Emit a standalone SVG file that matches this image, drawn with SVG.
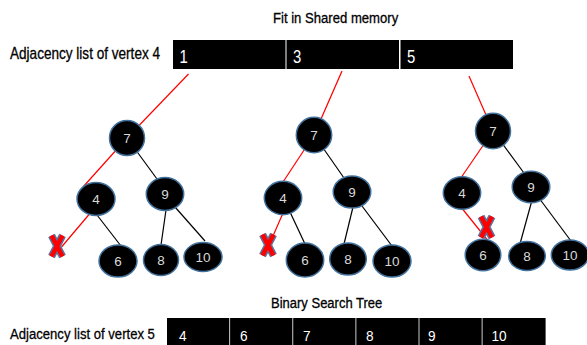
<svg xmlns="http://www.w3.org/2000/svg" xmlns:xlink="http://www.w3.org/1999/xlink" width="587" height="345" viewBox="0 0 587 345">
<style>
.lbl{font-family:"Liberation Sans",Arial,sans-serif;fill:#000;stroke:#000;stroke-width:0.3;}
.cell{fill:#000;}
.ct{font-family:"Liberation Sans",Arial,sans-serif;fill:#fff;}
.node ellipse{fill:#000;stroke:#41719c;stroke-width:1.5;}
.node text{font-family:"Liberation Sans",Arial,sans-serif;font-size:13.5px;fill:#d9d9d9;text-anchor:middle;}
.red{stroke:#ff0000;stroke-width:1.2;fill:none;}
.blk{stroke:#000;stroke-width:1.2;fill:none;}
</style>
<defs>
<g id="xmark">
<path d="M-5.5,-10.5 L5.5,10.5 M5.5,-10.5 L-5.5,10.5" stroke="#5a74a0" stroke-width="7.5" stroke-linecap="butt"/>
<path d="M-5.5,-10.5 L5.5,10.5 M5.5,-10.5 L-5.5,10.5" stroke="#ff0000" stroke-width="4.5" stroke-linecap="butt"/>
</g>
</defs>

<text class="lbl" transform="translate(273,23) scale(0.874,1)" font-size="15">Fit in Shared memory</text>
<text class="lbl" transform="translate(10,59) scale(0.848,1)" font-size="16">Adjacency list of vertex 4</text>
<text class="lbl" transform="translate(271,308) scale(0.897,1)" font-size="14.5">Binary Search Tree</text>
<text class="lbl" transform="translate(10,339) scale(0.846,1)" font-size="15.5">Adjacency list of vertex 5</text>

<g id="list4">
<rect class="cell" x="173" y="40" width="112.5" height="29"/>
<rect class="cell" x="286.5" y="40" width="112.5" height="29"/>
<rect class="cell" x="400.5" y="40" width="112.5" height="29"/>
<text class="ct" transform="translate(179.5,62.7) scale(0.85,1)" font-size="17.5">1</text>
<text class="ct" transform="translate(293,62.7) scale(0.85,1)" font-size="17.5">3</text>
<text class="ct" transform="translate(407,62.7) scale(0.85,1)" font-size="17.5">5</text>
</g>

<g id="list5">
<rect class="cell" x="167" y="318" width="62.3" height="27"/>
<rect class="cell" x="230.1" y="318" width="62.3" height="27"/>
<rect class="cell" x="293.2" y="318" width="62.3" height="27"/>
<rect class="cell" x="356.3" y="318" width="62.3" height="27"/>
<rect class="cell" x="419.4" y="318" width="62.3" height="27"/>
<rect class="cell" x="482.5" y="318" width="63.1" height="27"/>
<text class="ct" transform="translate(179,341) scale(0.88,1)" font-size="15.5">4</text>
<text class="ct" transform="translate(240,341) scale(0.88,1)" font-size="15.5">6</text>
<text class="ct" transform="translate(303,341) scale(0.88,1)" font-size="15.5">7</text>
<text class="ct" transform="translate(366,341) scale(0.88,1)" font-size="15.5">8</text>
<text class="ct" transform="translate(428,341) scale(0.88,1)" font-size="15.5">9</text>
<text class="ct" transform="translate(491.5,341) scale(0.88,1)" font-size="15.5">10</text>
</g>

<g id="connectors">
<line class="red" x1="188.5" y1="74" x2="127" y2="138"/>
<line class="red" x1="127" y1="138" x2="83" y2="187"/>
<line class="red" x1="92" y1="211" x2="61.5" y2="247"/>
<line class="blk" x1="97" y1="215" x2="121" y2="246"/>
<line class="blk" x1="127" y1="138" x2="157" y2="179"/>
<line class="blk" x1="166" y1="210" x2="161" y2="245"/>
<line class="blk" x1="175" y1="207" x2="205" y2="241"/>

<line class="red" x1="342" y1="71" x2="314" y2="135"/>
<line class="red" x1="314" y1="135" x2="283" y2="182"/>
<line class="red" x1="283" y1="213" x2="273" y2="236"/>
<line class="blk" x1="290" y1="212" x2="305" y2="244"/>
<line class="blk" x1="314" y1="135" x2="344" y2="178"/>
<line class="blk" x1="353" y1="207" x2="344" y2="244"/>
<line class="blk" x1="362" y1="206" x2="392" y2="246"/>

<line class="red" x1="469" y1="76" x2="493" y2="131"/>
<line class="red" x1="493" y1="131" x2="461.5" y2="177"/>
<line class="red" x1="462.5" y1="209" x2="487.5" y2="240"/>
<line class="blk" x1="493" y1="131" x2="524" y2="173"/>
<line class="blk" x1="531.5" y1="202" x2="520.5" y2="242"/>
<line class="blk" x1="540.5" y1="200" x2="571" y2="241"/>
</g>

<g id="t1n7" class="node"><ellipse cx="127" cy="138" rx="17.5" ry="17.5"/><text x="127" y="143">7</text></g>
<g id="t1n4" class="node"><ellipse cx="96" cy="199" rx="19" ry="16.5"/><text x="96" y="204">4</text></g>
<g id="t1n9" class="node"><ellipse cx="165" cy="194" rx="18.7" ry="16.5"/><text x="165" y="199">9</text></g>
<g id="t1n6" class="node"><ellipse cx="118" cy="261" rx="19" ry="16"/><text x="118" y="266">6</text></g>
<g id="t1n8" class="node"><ellipse cx="161" cy="260" rx="17.5" ry="15.5"/><text x="161" y="265">8</text></g>
<g id="t1n10" class="node"><ellipse cx="203" cy="257" rx="19" ry="14.5"/><text x="203" y="262">10</text></g>

<g id="t2n7" class="node"><ellipse cx="314" cy="135" rx="17.7" ry="17.7"/><text x="314" y="140">7</text></g>
<g id="t2n4" class="node"><ellipse cx="283" cy="198" rx="18.7" ry="16.7"/><text x="283" y="203">4</text></g>
<g id="t2n9" class="node"><ellipse cx="352" cy="192" rx="18.8" ry="16"/><text x="352" y="197">9</text></g>
<g id="t2n6" class="node"><ellipse cx="305" cy="260" rx="18.7" ry="17"/><text x="305" y="265">6</text></g>
<g id="t2n8" class="node"><ellipse cx="348" cy="259" rx="18.3" ry="16"/><text x="348" y="264">8</text></g>
<g id="t2n10" class="node"><ellipse cx="392" cy="261" rx="19" ry="16"/><text x="392" y="266">10</text></g>

<g id="t3n7" class="node"><ellipse cx="493" cy="131" rx="17.5" ry="17.8"/><text x="493" y="136">7</text></g>
<g id="t3n4" class="node"><ellipse cx="462" cy="193" rx="18.7" ry="16.3"/><text x="462" y="198">4</text></g>
<g id="t3n9" class="node"><ellipse cx="531" cy="187" rx="18.8" ry="15.8"/><text x="531" y="192">9</text></g>
<g id="t3n6" class="node"><ellipse cx="483" cy="255" rx="17.8" ry="15.7"/><text x="483" y="260">6</text></g>
<g id="t3n8" class="node"><ellipse cx="527" cy="256" rx="18.3" ry="14.5"/><text x="527" y="261">8</text></g>
<g id="t3n10" class="node"><ellipse cx="570" cy="255" rx="18.7" ry="15"/><text x="570" y="260">10</text></g>

<g id="marks">
<use xlink:href="#xmark" transform="translate(57,246)"/>
<use xlink:href="#xmark" transform="translate(268,245)"/>
<use xlink:href="#xmark" transform="translate(486.5,227)"/>
</g>
</svg>
